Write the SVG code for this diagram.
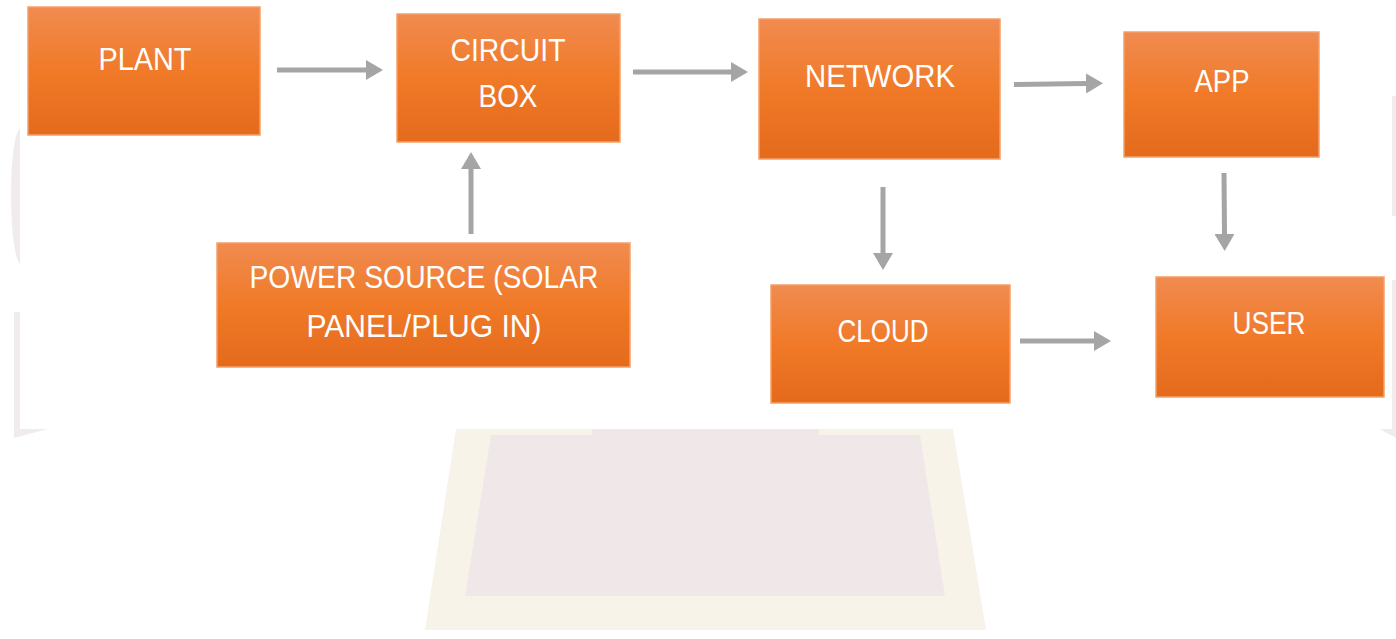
<svg xmlns="http://www.w3.org/2000/svg" width="1396" height="639" viewBox="0 0 1396 639">
<defs>
<linearGradient id="og" x1="0" y1="0" x2="0" y2="1">
<stop offset="0" stop-color="#F08B50"/>
<stop offset="0.5" stop-color="#F07A28"/>
<stop offset="1" stop-color="#E46A1C"/>
</linearGradient>
<marker id="ah" markerWidth="17" markerHeight="20" refX="0" refY="10" orient="auto" markerUnits="userSpaceOnUse">
<path d="M0,0 L17,10 L0,20 Z" fill="#A5A5A5"/>
</marker>
<style>
.box{fill:url(#og);stroke:#F3A06A;stroke-width:1.5}
.lbl{font-family:"Liberation Sans",Arial,sans-serif;font-size:32px;fill:#FFFFFF;text-anchor:middle}
.conn{stroke:#A5A5A5;stroke-width:5;fill:none;marker-end:url(#ah)}
.deco{fill:#F0ECED}
</style>
</defs>
<rect width="1396" height="639" fill="#FFFFFF"/>
<g id="background">
<path class="deco" d="M20,128 C8,140 8,250 20,264 Z"/>
<path class="deco" d="M14,312 L20,312 L20,429 L48,429 L14,438 Z"/>
<path class="deco" d="M1392,96 L1396,96 L1396,216 L1392,216 Z"/>
<path class="deco" d="M1392,280 L1396,280 L1396,438 L1380,429 L1392,429 Z"/>
<polygon points="456,429 953,429 986,630 425,630" fill="#F7F3E9"/>
<polygon points="491,435 920,435 945,596 465,596" fill="#F0E8E8"/>
<rect x="592" y="429" width="227" height="6" fill="#F0E8E8"/>
</g>
<g id="connectors">
<line class="conn" x1="277" y1="70" x2="366" y2="70"/>
<line class="conn" x1="471" y1="234" x2="471" y2="169"/>
<line class="conn" x1="633" y1="72" x2="731" y2="72"/>
<line class="conn" x1="1014" y1="84.5" x2="1086" y2="83.5"/>
<line class="conn" x1="883" y1="187" x2="883" y2="253"/>
<line class="conn" x1="1224" y1="173" x2="1224.5" y2="234"/>
<line class="conn" x1="1020" y1="341" x2="1094" y2="341"/>
</g>
<g id="plant">
<rect class="box" x="28" y="7" width="232" height="128"/>
<text class="lbl" x="145" y="70" textLength="93" lengthAdjust="spacingAndGlyphs">PLANT</text>
</g>
<g id="circuit-box">
<rect class="box" x="397" y="14" width="223" height="128"/>
<text class="lbl" x="508" y="61" textLength="115" lengthAdjust="spacingAndGlyphs">CIRCUIT</text>
<text class="lbl" x="508" y="107" textLength="59" lengthAdjust="spacingAndGlyphs">BOX</text>
</g>
<g id="power-source">
<rect class="box" x="217" y="243" width="413" height="124"/>
<text class="lbl" x="424" y="288" textLength="349" lengthAdjust="spacingAndGlyphs">POWER SOURCE (SOLAR</text>
<text class="lbl" x="424" y="337" textLength="235" lengthAdjust="spacingAndGlyphs">PANEL/PLUG IN)</text>
</g>
<g id="network">
<rect class="box" x="759" y="19" width="241" height="140"/>
<text class="lbl" x="880" y="87" textLength="150" lengthAdjust="spacingAndGlyphs">NETWORK</text>
</g>
<g id="app">
<rect class="box" x="1124" y="32" width="195" height="125"/>
<text class="lbl" x="1222" y="92" textLength="55" lengthAdjust="spacingAndGlyphs">APP</text>
</g>
<g id="cloud">
<rect class="box" x="771" y="285" width="239" height="118"/>
<text class="lbl" x="883" y="342" textLength="91" lengthAdjust="spacingAndGlyphs">CLOUD</text>
</g>
<g id="user">
<rect class="box" x="1156" y="277" width="228" height="120"/>
<text class="lbl" x="1269" y="334" textLength="73" lengthAdjust="spacingAndGlyphs">USER</text>
</g>
</svg>
